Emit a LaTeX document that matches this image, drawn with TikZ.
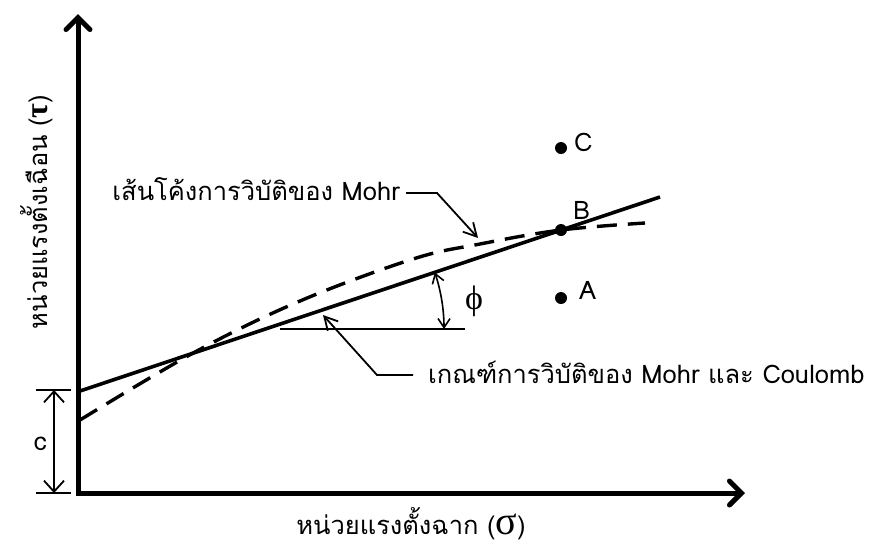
\documentclass[tikz,border=0pt]{standalone}
\usepackage{fontspec}
\setmainfont[Script=Thai]{Loma}
\newfontfamily\greekfont{Liberation Serif}
\usetikzlibrary{arrows.meta}
\tikzset{
      axisline/.style={
        line width=5pt,
        line join=miter,
        {Straight Barb[length=12pt,width=24pt,line width=5pt,line cap=round]}-{Straight Barb[length=12pt,width=24pt,line width=5pt,line cap=round]}
      },
      envelope/.style={
        line width=3.4pt,
        dash pattern=on 20pt off 11pt
      },
      criterion/.style={
        line width=3.6pt
      },
      leader/.style={
        line width=1.8pt,
        -{Straight Barb[length=13pt,width=14pt,line width=1.8pt]}
      },
      dot/.style={
        circle,
        fill=black,
        inner sep=0pt,
        minimum size=12pt
      },
      labeltext/.style={
        font=\fontsize{25.5}{30}\selectfont,
        inner sep=0pt
      }
    }

\begin{document}
\begin{tikzpicture}[x=1pt,y=-1pt]
    \useasboundingbox (0,0) rectangle (894,547);
    % axes
    \coordinate (O) at (78,493);
    \coordinate (ytop) at (78,14);
    \coordinate (xend) at (745,493);
    \draw[axisline] (ytop) -- (O) -- (xend);
    \node[labeltext, rotate=90] (ylabel) at (37,212) {หน่วยแรงตั้งเฉือน ({\greekfont\bfseries\fontsize{32}{32}\selectfont τ})};
    \node[labeltext] (xlabel) at (411,524) {หน่วยแรงตั้งฉาก ({\greekfont\fontsize{40}{40}\selectfont σ})};
    % envelope and straight criterion
    \draw[envelope] plot[smooth, tension=0.6] coordinates {(80,420) (195,352) (300,301) (413,259) (480,244) (561,230) (645,223)};
    \coordinate (c0) at (80,391);
    \coordinate (c1) at (660,197);
    \draw[criterion] (c0) -- (c1);
    % friction angle
    \coordinate (apex) at (266,329);
    \coordinate (hend) at (465,329);
    \draw[line width=1.8pt] (280,329) -- (hend);
    \draw[line width=1.6pt, {Straight Barb[length=9pt,width=12pt]}-{Straight Barb[length=9pt,width=12pt]}] ([shift={(0:178)}]apex) arc[start angle=0, end angle=-18.5, radius=178];
    \node[labeltext] (phi) at (474,301) {{\greekfont\fontsize{34}{34}\selectfont ϕ}};
    % cohesion
    \coordinate (ctop) at (54,390);
    \coordinate (cbot) at (54,493);
    \draw[line width=1.8pt] (36,390) -- (71,390);
    \draw[line width=1.8pt] (36,493) -- (71,493);
    \draw[line width=1.8pt, {Straight Barb[length=11pt,width=20pt]}-{Straight Barb[length=11pt,width=20pt]}] (ctop) -- (cbot);
    \node[labeltext] (clabel) at (40,444) {c};
    % stress states
    \node[dot] (C) at (561,148) {};
    \node[dot] (B) at (561,230) {};
    \node[dot] (A) at (561,298) {};
    \node[labeltext, anchor=west] (Clabel) at (574,142) {C};
    \node[labeltext, anchor=west] (Blabel) at (573,210) {B};
    \node[labeltext, anchor=west] (Alabel) at (579,290) {A};
    % leaders
    \node[labeltext, anchor=east] (envlabel) at (400,189) {เส้นโค้งการวิบัติของ Mohr};
    \coordinate (envtip) at (478,238);
    \draw[leader] (envlabel.east) ++(6,4) -- ++(31,0) -- (envtip);
    \node[labeltext, anchor=west] (critlabel) at (428,372) {เกณฑ์การวิบัติของ Mohr และ Coulomb};
    \coordinate (crittip) at (323,315);
    \coordinate (critbend) at (377,375);
    \draw[leader] (critlabel.west) ++(-15,3) -- (critbend) -- (crittip);
\end{tikzpicture}
\end{document}
